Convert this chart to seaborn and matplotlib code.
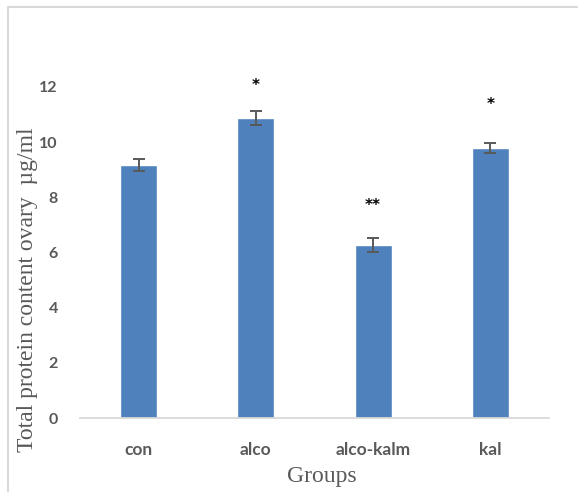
import numpy as np
import pandas as pd
import matplotlib
matplotlib.use("Agg")
import matplotlib.pyplot as plt
from matplotlib.lines import Line2D
import seaborn as sns

# values
groups = ["con", "alco", "alco-kalm", "kal"]
protein = [9.17, 10.88, 6.27, 9.78]
sem = [0.21, 0.25, 0.26, 0.19]
signif = ["", "*", "**", "*"]
signif_y = [0, 12.05, 7.7, 11.35]

df = pd.DataFrame({"group": groups, "protein": protein})

sns.set_style("white")
plt.rcParams["font.family"] = ["Lato", "DejaVu Sans"]

fig = plt.figure(figsize=(5.78, 4.92), dpi=100)
ax = fig.add_axes([80 / 578, 74 / 492, 469 / 578, 331 / 492])

sns.barplot(data=df, x="group", y="protein", color="#4F81BD", saturation=1,
            width=0.315, errorbar=None, ax=ax)
ax.errorbar(np.arange(len(groups)), protein, yerr=sem, fmt="none",
            ecolor="#595959", elinewidth=1.4, capsize=4, capthick=1.4)

for i, s in enumerate(signif):
    if s:
        ax.text(i, signif_y[i], s, ha="center", va="center", fontsize=11,
                fontweight="bold", color="black", clip_on=False,
                family="DejaVu Sans")

ax.set_xlim(-0.5, 3.5)
ax.set_ylim(0, 12)
ax.set_yticks([0, 2, 4, 6, 8, 10, 12])
for sp in ["top", "right", "left"]:
    ax.spines[sp].set_visible(False)
ax.spines["bottom"].set_color("#d9d9d9")
ax.spines["bottom"].set_linewidth(1.3)
ax.tick_params(axis="both", length=0, labelsize=11.5, labelcolor="#595959")
ax.tick_params(axis="x", labelsize=12.5, pad=17)
ax.tick_params(axis="y", pad=16)
for lab in ax.get_xticklabels() + ax.get_yticklabels():
    lab.set_fontweight("bold")

ax.set_xlabel("Groups", family="Liberation Serif", fontsize=17,
              color="#595959", va="center")
ax.xaxis.set_label_coords(0.516, -0.178)
ax.set_ylabel("Total protein content ovary  µg/ml", family="Liberation Serif",
              fontsize=17, color="#595959", va="center")
ax.yaxis.set_label_coords(-0.113, 0.387)

# outer chart frame (top and left edges visible in the reference)
fig.add_artist(Line2D([8 / 578, 8 / 578], [0, 1 - 7 / 492], color="#d9d9d9",
                      lw=1.5, transform=fig.transFigure))
fig.add_artist(Line2D([8 / 578, 1], [1 - 7 / 492, 1 - 7 / 492], color="#d9d9d9",
                      lw=1.5, transform=fig.transFigure))

fig.savefig("out.png", dpi=100)
